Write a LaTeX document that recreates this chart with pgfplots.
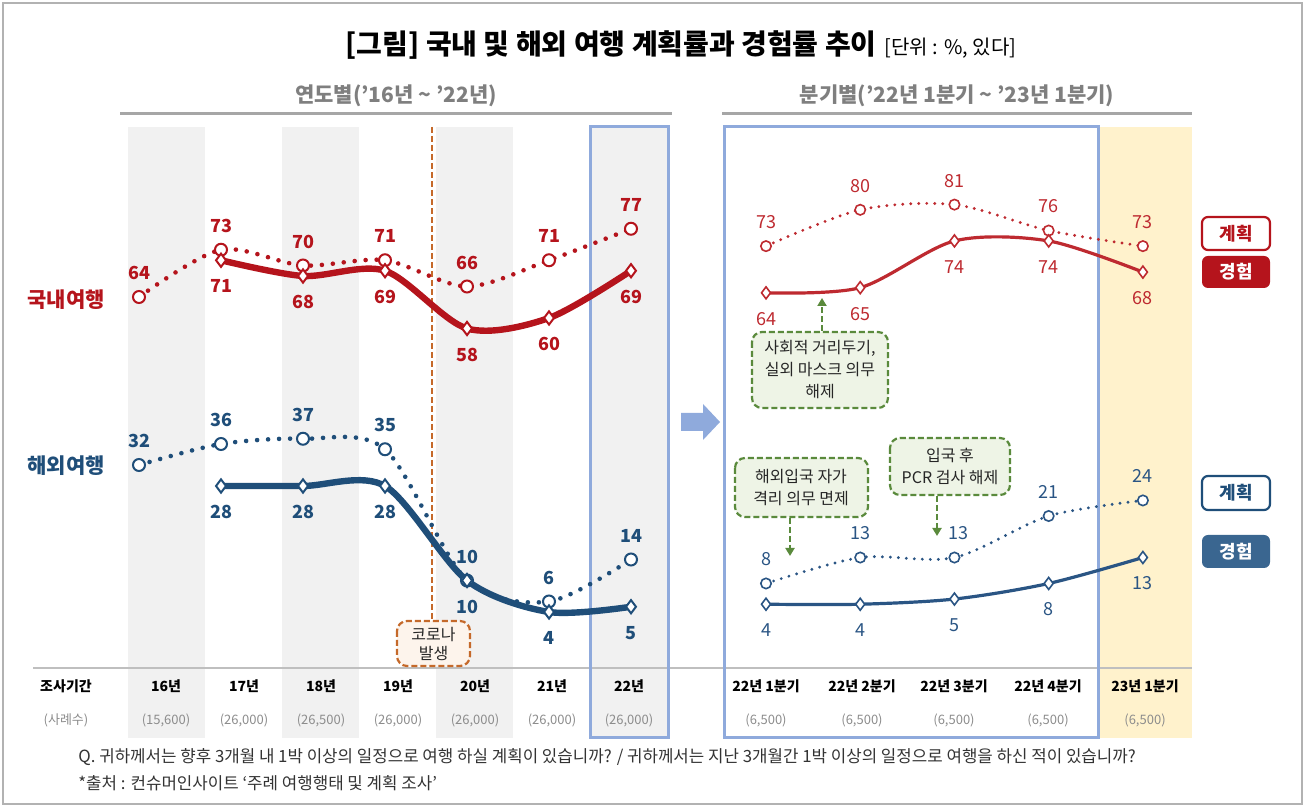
\documentclass[border=0pt]{standalone}
\usepackage{pgfplots}
\pgfplotsset{compat=1.18}
\usepackage{fontspec}
\setmainfont{Noto Sans CJK KR}
\usetikzlibrary{arrows.meta}
\definecolor{cred}{HTML}{B5141C}
\definecolor{cred2}{HTML}{BE2A30}
\definecolor{cblue}{HTML}{1F4E79}
\definecolor{cblue2}{HTML}{2A5584}
\definecolor{band}{HTML}{F1F1F1}
\definecolor{rectblue}{HTML}{8FAADC}
\definecolor{yband}{HTML}{FFF2CC}
\definecolor{hdr}{HTML}{7F7F7F}
\definecolor{gline}{HTML}{A6A6A6}
\definecolor{grn}{HTML}{5A8A3C}
\definecolor{grnfill}{HTML}{EEF4E6}
\definecolor{org}{HTML}{C5692A}
\definecolor{orgfill}{HTML}{FDF4EC}
\definecolor{legblue}{HTML}{3A6690}
\definecolor{txtgrey}{HTML}{8C8C8C}
\definecolor{foot}{HTML}{333333}
\tikzset{
  lab/.style={font=\bfseries\fontsize{9pt}{10pt}\selectfont},
  rlab/.style={font=\fontsize{9pt}{10pt}\selectfont},
  ab/.style={yshift=12pt},
  bl/.style={yshift=-13pt},
  anno/.style={align=center, text=black!85, font=\fontsize{8pt}{11pt}\selectfont},
  px/.style={x=0.5pt,y=0.5pt,shift={(0,807)},yscale=-1},
}
\begin{document}
\begin{tikzpicture}
\path[use as bounding box] (0pt,0pt) rectangle (653pt,403.5pt);
\begin{scope}[px]
 \draw[black!30, line width=0.75pt] (3,3) rectangle (1302,804);
 \fill[band] (128,127) rectangle (205,738);
 \fill[band] (282,127) rectangle (359,738);
 \fill[band] (436,127) rectangle (513,738);
 \fill[band] (590,127) rectangle (668,738);
 \fill[yband] (1100,127) rectangle (1192,738);
 \draw[black!25, line width=0.7pt] (33,668) -- (1192,668);
 \draw[rectblue, line width=1.5pt] (590,127) rectangle (668,738);
 \draw[rectblue, line width=1.5pt] (724,127) rectangle (1098,738);
 \draw[gline, line width=1.5pt] (120,114) -- (672,114);
 \draw[gline, line width=1.5pt] (722,114) -- (1192,114);
 \draw[org, line width=0.6pt, dash pattern=on 3pt off 1.5pt] (432,127) -- (432,621);
 \fill[rectblue] (681,413) -- (703,413) -- (703,404) -- (720,422) -- (703,440) -- (703,431) -- (681,431) -- cycle;
 % title
 \node at (681,45) {\fontsize{14pt}{15pt}\selectfont\bfseries [그림] 국내 및 해외 여행 계획률과 경험률 추이\hspace{4pt}{\mdseries\fontsize{10pt}{11pt}\selectfont [단위 : \%, 있다]}};
 \node[text=hdr] at (396,96) {\fontsize{10.5pt}{12pt}\selectfont\bfseries 연도별('16년 \textasciitilde{} '22년)};
 \node[text=hdr] at (957,96) {\fontsize{10.5pt}{12pt}\selectfont\bfseries 분기별('22년 1분기 \textasciitilde{} '23년 1분기)};
 \node[text=cred] at (66,300) {\fontsize{10.5pt}{12pt}\selectfont\bfseries 국내여행};
 \node[text=cblue] at (66,466) {\fontsize{10.5pt}{12pt}\selectfont\bfseries 해외여행};
 % bottom rows
 \begin{scope}[every node/.style={font=\bfseries\fontsize{7pt}{8pt}\selectfont}]
  \node at (66,686) {조사기간};
  \node at (166,686) {16년};
  \node at (244,686) {17년};
  \node at (321,686) {18년};
  \node at (398,686) {19년};
  \node at (475,686) {20년};
  \node at (552,686) {21년};
  \node at (629,686) {22년};
  \node at (766,686) {22년 1분기};
  \node at (862,686) {22년 2분기};
  \node at (954,686) {22년 3분기};
  \node at (1048,686) {22년 4분기};
  \node at (1145,686) {23년 1분기};
 \end{scope}
 \begin{scope}[every node/.style={text=txtgrey, font=\fontsize{6.5pt}{8pt}\selectfont}]
  \node at (66,720) {(사례수)};
  \node at (166,720) {(15,600)};
  \node at (244,720) {(26,000)};
  \node at (321,720) {(26,500)};
  \node at (398,720) {(26,000)};
  \node at (475,720) {(26,000)};
  \node at (552,720) {(26,000)};
  \node at (629,720) {(26,000)};
  \node at (766,720) {(6,500)};
  \node at (862,720) {(6,500)};
  \node at (954,720) {(6,500)};
  \node at (1048,720) {(6,500)};
  \node at (1145,720) {(6,500)};
 \end{scope}
 \node[anchor=west, inner sep=0pt, text=foot] at (78,757) {\fontsize{8.4pt}{10pt}\selectfont Q. 귀하께서는 향후 3개월 내 1박 이상의 일정으로 여행 하실 계획이 있습니까? / 귀하께서는 지난 3개월간 1박 이상의 일정으로 여행을 하신 적이 있습니까?};
 \node[anchor=west, inner sep=0pt, text=foot] at (78,783) {\fontsize{8.4pt}{10pt}\selectfont *출처 : 컨슈머인사이트 `주례 여행행태 및 계획 조사'};
 % legend boxes
 \draw[cred, line width=1.1pt, fill=white, rounded corners=3pt] (1202,217) rectangle (1270,250);
 \node[text=cred] at (1236,233.5) {\fontsize{9pt}{10pt}\selectfont\bfseries 계획};
 \fill[cred, rounded corners=3pt] (1202,256) rectangle (1270,288);
 \node[text=white] at (1236,272) {\fontsize{9pt}{10pt}\selectfont\bfseries 경험};
 \draw[cblue, line width=1.1pt, fill=white, rounded corners=3pt] (1202,476) rectangle (1270,510);
 \node[text=cblue] at (1236,493) {\fontsize{9pt}{10pt}\selectfont\bfseries 계획};
 \fill[legblue, rounded corners=3pt] (1202,535) rectangle (1270,568);
 \node[text=white] at (1236,551.5) {\fontsize{9pt}{10pt}\selectfont\bfseries 경험};
\end{scope}

% ---------------- left axis
\begin{axis}[at={(69.5pt,87pt)}, anchor=origin, scale only axis, width=270.5pt, height=306pt,
  xmin=-0.14634, xmax=6.45122, ymin=-20.19, ymax=96.38, hide axis, xtick=\empty, ytick=\empty, clip=false]
\addplot[cred, line width=2.3pt, dash pattern=on 0pt off 5.5pt, line cap=round, smooth,
  mark=*, mark size=3pt, mark options={solid, line width=1pt, fill=white}]
  coordinates {(0,64)(1,73)(2,70)(3,71)(4,66)(5,71)(6,77)};
\addplot[cred, line width=3.2pt, smooth,
  mark=diamond*, mark size=3.3pt, mark options={solid, line width=1pt, fill=white}]
  coordinates {(1,71)(2,68)(3,69)(4,58)(5,60)(6,69)};
\addplot[cblue, line width=2.3pt, dash pattern=on 0pt off 5.5pt, line cap=round, smooth,
  mark=*, mark size=3pt, mark options={solid, line width=1pt, fill=white}]
  coordinates {(0,32)(1,36)(2,37)(3,35)(4,10)(5,6)(6,14)};
\addplot[cblue, line width=3.2pt, smooth,
  mark=diamond*, mark size=3.3pt, mark options={solid, line width=1pt, fill=white}]
  coordinates {(1,28)(2,28)(3,28)(4,10)(5,4)(6,5)};
\begin{scope}[every node/.style={lab, text=cred}]
 \node[ab] at (axis cs:0,64) {64};
 \node[ab] at (axis cs:1,73) {73};
 \node[ab] at (axis cs:2,70) {70};
 \node[ab] at (axis cs:3,71) {71};
 \node[ab] at (axis cs:4,66) {66};
 \node[ab] at (axis cs:5,71) {71};
 \node[ab] at (axis cs:6,77) {77};
 \node[bl] at (axis cs:1,71) {71};
 \node[bl] at (axis cs:2,68) {68};
 \node[bl] at (axis cs:3,69) {69};
 \node[bl] at (axis cs:4,58) {58};
 \node[bl] at (axis cs:5,60) {60};
 \node[bl] at (axis cs:6,69) {69};
\end{scope}
\begin{scope}[every node/.style={lab, text=cblue}]
 \node[ab] at (axis cs:0,32) {32};
 \node[ab] at (axis cs:1,36) {36};
 \node[ab] at (axis cs:2,37) {37};
 \node[ab] at (axis cs:3,35) {35};
 \node[ab] at (axis cs:4,10) {10};
 \node[ab] at (axis cs:5,6) {6};
 \node[ab] at (axis cs:6,14) {14};
 \node[bl] at (axis cs:1,28) {28};
 \node[bl] at (axis cs:2,28) {28};
 \node[bl] at (axis cs:3,28) {28};
 \node[bl] at (axis cs:4,10) {10};
 \node[bl] at (axis cs:5,4) {4};
 \node[bl] at (axis cs:6,5) {5};
\end{scope}
\end{axis}

% ---------------- right axis
\begin{axis}[at={(383pt,91pt)}, anchor=origin, scale only axis, width=236.5pt, height=306pt,
  xmin=-0.5, xmax=4.52, ymin=-21.97, ymax=95.95, hide axis, xtick=\empty, ytick=\empty, clip=false]
\addplot[cred2, line width=1.6pt, dash pattern=on 0pt off 4pt, line cap=round, smooth,
  mark=*, mark size=2.6pt, mark options={solid, line width=0.8pt, fill=white}]
  coordinates {(0,73)(1,80)(2,81)(3,76)(4,73)};
\addplot[cred2, line width=1.6pt, smooth,
  mark=diamond*, mark size=3pt, mark options={solid, line width=0.8pt, fill=white}]
  coordinates {(0,64)(1,65)(2,74)(3,74)(4,68)};
\addplot[cblue2, line width=1.6pt, dash pattern=on 0pt off 4pt, line cap=round, smooth,
  mark=*, mark size=2.6pt, mark options={solid, line width=0.8pt, fill=white}]
  coordinates {(0,8)(1,13)(2,13)(3,21)(4,24)};
\addplot[cblue2, line width=1.6pt, smooth,
  mark=diamond*, mark size=3pt, mark options={solid, line width=0.8pt, fill=white}]
  coordinates {(0,4)(1,4)(2,5)(3,8)(4,13)};
\begin{scope}[every node/.style={rlab, text=cred2}]
 \node[ab] at (axis cs:0,73) {73};
 \node[ab] at (axis cs:1,80) {80};
 \node[ab] at (axis cs:2,81) {81};
 \node[ab] at (axis cs:3,76) {76};
 \node[ab] at (axis cs:4,73) {73};
 \node[bl] at (axis cs:0,64) {64};
 \node[bl] at (axis cs:1,65) {65};
 \node[bl] at (axis cs:2,74) {74};
 \node[bl] at (axis cs:3,74) {74};
 \node[bl] at (axis cs:4,68) {68};
\end{scope}
\begin{scope}[every node/.style={rlab, text=cblue2}]
 \node[ab] at (axis cs:0,8) {8};
 \node[ab] at (axis cs:1,13) {13};
 \node[ab, xshift=2pt] at (axis cs:2,13) {13};
 \node[ab] at (axis cs:3,21) {21};
 \node[ab] at (axis cs:4,24) {24};
 \node[bl] at (axis cs:0,4) {4};
 \node[bl] at (axis cs:1,4) {4};
 \node[bl] at (axis cs:2,5) {5};
 \node[bl] at (axis cs:3,8) {8};
 \node[bl] at (axis cs:4,13) {13};
\end{scope}
\end{axis}

% ---------------- annotations
\begin{scope}[px]
 \draw[grn, line width=1.1pt, dash pattern=on 3pt off 1.5pt, fill=grnfill, rounded corners=5pt] (752,332) rectangle (888,408);
 \node[anno] at (820,370) {사회적 거리두기,\\실외 마스크 의무\\해제};
 \draw[grn, line width=1.1pt, dash pattern=on 3pt off 1.5pt, -{Triangle[length=4pt,width=4.5pt]}] (822,331) -- (822,298);
 \draw[grn, line width=1.1pt, dash pattern=on 3pt off 1.5pt, fill=grnfill, rounded corners=5pt] (735,458) rectangle (868,517);
 \node[anno] at (801,487.5) {해외입국 자가\\격리 의무 면제};
 \draw[grn, line width=1.1pt, dash pattern=on 3pt off 1.5pt, -{Triangle[length=4pt,width=4.5pt]}] (790,518) -- (790,556);
 \draw[grn, line width=1.1pt, dash pattern=on 3pt off 1.5pt, fill=grnfill, rounded corners=5pt] (890,438) rectangle (1010,495);
 \node[anno] at (950,466.5) {입국 후\\PCR 검사 해제};
 \draw[grn, line width=1.1pt, dash pattern=on 3pt off 1.5pt, -{Triangle[length=4pt,width=4.5pt]}] (937,496) -- (937,536);
 \draw[org, line width=1.1pt, dash pattern=on 3pt off 1.5pt, fill=orgfill, rounded corners=5pt] (397,621) rectangle (470,666);
 \node[anno, font=\fontsize{8pt}{9.5pt}\selectfont] at (433.5,643.5) {코로나\\발생};
\end{scope}
\end{tikzpicture}
\end{document}
